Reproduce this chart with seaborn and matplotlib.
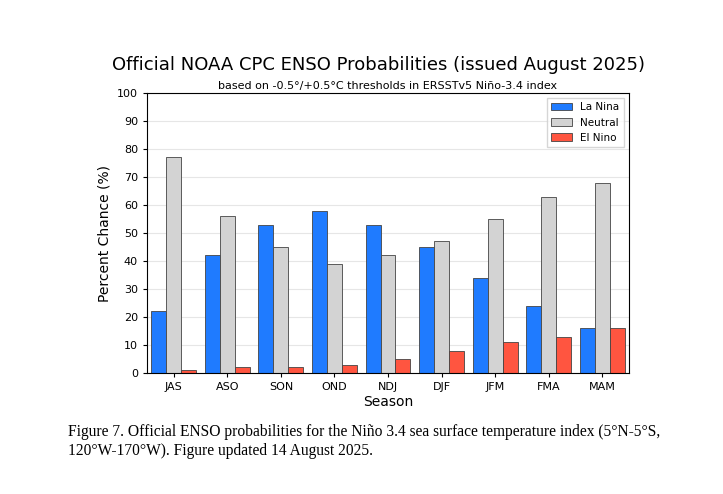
import pandas as pd
import matplotlib
matplotlib.use("Agg")
import matplotlib.pyplot as plt
import seaborn as sns

seasons = ["JAS", "ASO", "SON", "OND", "NDJ", "DJF", "JFM", "FMA", "MAM"]
la_nina = [22, 42, 53, 58, 53, 45, 34, 24, 16]
neutral = [77, 56, 45, 39, 42, 47, 55, 63, 68]
el_nino = [1, 2, 2, 3, 5, 8, 11, 13, 16]

df = pd.DataFrame({"Season": seasons * 3,
                   "Chance": la_nina + neutral + el_nino,
                   "Category": ["La Nina"] * 9 + ["Neutral"] * 9 + ["El Nino"] * 9})

sns.set_style("white")
plt.rcParams.update({"text.color": "black", "axes.labelcolor": "black",
                     "xtick.color": "black", "ytick.color": "black"})
fig = plt.figure(figsize=(7.23, 4.94), dpi=100)
ax = fig.add_axes([147 / 723, 1 - 373 / 494, 482 / 723, 280 / 494])
sns.barplot(data=df, x="Season", y="Chance", hue="Category",
            palette=["#1f7bff", "#d3d3d3", "#ff5540"], edgecolor="#444444",
            linewidth=0.6, width=0.84, saturation=1, ax=ax)
ax.set_ylim(0, 100)
ax.set_yticks(range(0, 101, 10))
ax.yaxis.grid(True, color="#e6e6e6", linewidth=0.8)
ax.set_axisbelow(True)
ax.set_xlabel("Season", fontsize=10, labelpad=2)
ax.set_ylabel("Percent Chance (%)", fontsize=10)
ax.tick_params(labelsize=8, length=3, left=True, bottom=True)
for s in ax.spines.values():
    s.set_color("black")
    s.set_linewidth(0.8)
ax.legend(title=None, loc="upper right", fontsize=7.5, frameon=True, fancybox=False)

fig.text(379 / 723, 1 - 65 / 494, "Official NOAA CPC ENSO Probabilities (issued August 2025)",
         ha="center", va="center", fontsize=13)
fig.text(388 / 723, 1 - 86 / 494,
         "based on -0.5°/+0.5°C thresholds in ERSSTv5 Niño-3.4 index",
         ha="center", va="center", fontsize=8)
fig.text(68 / 723, 1 - 441 / 494,
         "Figure 7. Official ENSO probabilities for the Niño 3.4 sea surface temperature index (5°N-5°S,\n"
         "120°W-170°W). Figure updated 14 August 2025.",
         ha="left", va="center", fontsize=11.2, family="Liberation Serif", linespacing=1.25)

fig.savefig("out.png", dpi=100)
